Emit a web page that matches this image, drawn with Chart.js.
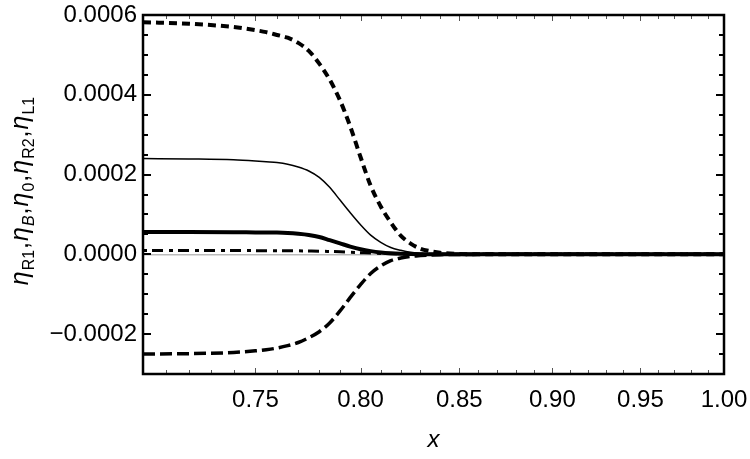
<!DOCTYPE html>
<html>
<head>
<meta charset="utf-8">
<script src="https://cdn.jsdelivr.net/npm/chart.js@4.4.1/dist/chart.umd.min.js"></script>
<style>
    html, body { margin: 0; padding: 0; background: #fff; }
    #wrap { width: 750px; height: 459px; position: relative; }
</style>
</head>
<body>
<div id="wrap"><canvas id="etaChart"></canvas></div>
<script>
// x positions (log axis) and the five eta curves
const X_VALUES = [0.70, 0.72, 0.74, 0.75, 0.755, 0.76, 0.765, 0.77, 0.775, 0.78, 0.785, 0.79, 0.795,
    0.80, 0.805, 0.81, 0.815, 0.82, 0.825, 0.83, 0.835, 0.84, 0.85, 0.87, 0.90, 0.95, 1.00];

// thick dotted
const ETA_DOTTED = [0.000582, 0.000578, 0.000570, 0.000562, 0.000557, 0.000550, 0.000543, 0.000530,
    0.000510, 0.000478, 0.000438, 0.000386, 0.000320, 0.000244, 0.000172, 0.000120, 0.000080,
    0.000047, 0.000027, 0.000014, 0.000008, 0.000004, 0.000001, 0, 0, 0, 0];
// thin solid
const ETA_THIN = [0.000240, 0.000239, 0.000237, 0.000234, 0.000232, 0.000230, 0.000226, 0.000219,
    0.000209, 0.000193, 0.000168, 0.000136, 0.000104, 0.000074, 0.000048, 0.000030, 0.000017,
    0.000010, 0.000005, 0.0000025, 0.000001, 0.0000005, 0, 0, 0, 0, 0];
// thick solid
const ETA_THICK = [0.000056, 0.000056, 0.0000555, 0.000055, 0.0000548, 0.0000545, 0.0000535,
    0.0000515, 0.0000485, 0.0000435, 0.0000355, 0.0000275, 0.0000195, 0.0000128, 0.000008,
    0.0000047, 0.0000027, 0.0000015, 0.0000007, 0.0000003, 0.0000001, 0, 0, 0, 0, 0, 0];
// dash-dot
const ETA_DASHDOT = [0.0000095, 0.0000095, 0.0000094, 0.0000093, 0.0000092, 0.0000090, 0.0000089,
    0.0000087, 0.0000084, 0.0000080, 0.0000072, 0.0000063, 0.0000052, 0.0000042, 0.0000032,
    0.0000023, 0.0000016, 0.0000010, 0.0000006, 0.0000003, 0.0000002, 0.0000001, 0, 0, 0, 0, 0];
// dashed (negative)
const ETA_DASHED = [-0.000250, -0.000249, -0.000246, -0.000242, -0.000239, -0.000235, -0.000229,
    -0.000221, -0.000209, -0.000194, -0.000172, -0.000142, -0.000108, -0.000076, -0.000048,
    -0.000029, -0.000016, -0.000009, -0.000005, -0.000003, -0.0000015, -0.0000008, -0.0000003,
    0, 0, 0, 0];

const X_MAJOR = [0.75, 0.80, 0.85, 0.90, 0.95, 1.00];
const X_MINOR = [0.71, 0.72, 0.73, 0.74, 0.76, 0.77, 0.78, 0.79, 0.81, 0.82, 0.83, 0.84,
    0.86, 0.87, 0.88, 0.89, 0.91, 0.92, 0.93, 0.94, 0.96, 0.97, 0.98, 0.99];
const Y_MAJOR = [-0.0002, 0, 0.0002, 0.0004, 0.0006];
const Y_MINOR = [-0.00025, -0.00015, -0.0001, -0.00005, 0.00005, 0.0001, 0.00015,
    0.00025, 0.0003, 0.00035, 0.00045, 0.0005, 0.00055];

const FONT_FAMILY = '"Liberation Sans", Arial, sans-serif';

function toPoints(values) {
    return X_VALUES.map((x, i) => ({ x: x, y: values[i] }));
}

function formatY(v) {
    const s = Math.abs(v) < 1e-12 ? '0.0000' : v.toFixed(4);
    return s.replace('-', '\u2212');
}

// frame, inward ticks on all four sides and the thin y = 0 line
const framePlugin = {
    id: 'frame',
    beforeDatasetsDraw(chart) {
        const { ctx, chartArea: a, scales } = chart;
        const y0 = scales.y.getPixelForValue(0);
        ctx.save();
        ctx.strokeStyle = '#9a9a9a';
        ctx.lineWidth = 1;
        ctx.beginPath();
        ctx.moveTo(a.left, y0 + 0.5);
        ctx.lineTo(a.right, y0 + 0.5);
        ctx.stroke();
        ctx.restore();
    },
    afterDraw(chart) {
        const { ctx, chartArea: a, scales } = chart;
        ctx.save();
        // x ticks
        ctx.strokeStyle = '#555';
        ctx.lineWidth = 1;
        const xTick = (v, len) => {
            const px = Math.round(scales.x.getPixelForValue(v)) + 0.5;
            ctx.beginPath();
            ctx.moveTo(px, a.bottom); ctx.lineTo(px, a.bottom - len);
            ctx.moveTo(px, a.top); ctx.lineTo(px, a.top + len);
            ctx.stroke();
        };
        X_MAJOR.forEach(v => xTick(v, 6));
        X_MINOR.forEach(v => xTick(v, 4));
        // y ticks
        ctx.strokeStyle = '#000';
        ctx.lineWidth = 2;
        const yTick = (v, len) => {
            const py = Math.round(scales.y.getPixelForValue(v));
            ctx.beginPath();
            ctx.moveTo(a.left, py); ctx.lineTo(a.left + len, py);
            ctx.moveTo(a.right, py); ctx.lineTo(a.right - len, py);
            ctx.stroke();
        };
        Y_MAJOR.forEach(v => yTick(v, 8));
        Y_MINOR.forEach(v => yTick(v, 5));
        // frame
        ctx.lineWidth = 2.5;
        ctx.strokeStyle = '#000';
        ctx.strokeRect(a.left, a.top, a.right - a.left, a.bottom - a.top);
        ctx.restore();
    }
};

// rotated y title with subscripts
const yTitlePlugin = {
    id: 'yTitle',
    afterDraw(chart) {
        const { ctx, chartArea: a } = chart;
        const main = 'italic 25px ' + FONT_FAMILY;
        const plain = '25px ' + FONT_FAMILY;
        const sub = '16px ' + FONT_FAMILY;
        const subIt = 'italic 16px ' + FONT_FAMILY;
        const parts = [
            ['\u03b7', main, 0], ['R1', sub, 6], [',', plain, 0],
            ['\u03b7', main, 0], ['B', subIt, 6], [',', plain, 0],
            ['\u03b7', main, 0], ['0', sub, 6], [',', plain, 0],
            ['\u03b7', main, 0], ['R2', sub, 6], [',', plain, 0],
            ['\u03b7', main, 0], ['L1', sub, 6],
        ];
        ctx.save();
        let total = 0;
        parts.forEach(p => { ctx.font = p[1]; total += ctx.measureText(p[0]).width + 1; });
        ctx.translate(28, (a.top + a.bottom) / 2 - 4);
        ctx.rotate(-Math.PI / 2);
        ctx.fillStyle = '#000';
        ctx.textBaseline = 'alphabetic';
        let x = -total / 2;
        parts.forEach(p => {
            ctx.font = p[1];
            ctx.fillText(p[0], x, p[2]);
            x += ctx.measureText(p[0]).width + 1;
        });
        ctx.restore();
    }
};

function lineSet(label, values, width, dash) {
    return {
        label: label,
        data: toPoints(values),
        borderColor: '#000',
        borderWidth: width,
        borderDash: dash,
        borderCapStyle: 'butt',
        pointRadius: 0,
        fill: false,
        cubicInterpolationMode: 'monotone',
    };
}

document.addEventListener('DOMContentLoaded', () => {
    const ctx = document.getElementById('etaChart');
    new Chart(ctx, {
        type: 'line',
        data: {
            datasets: [
                lineSet('dotted', ETA_DOTTED, 4, [8, 5]),
                lineSet('thin', ETA_THIN, 1.5, []),
                lineSet('thick', ETA_THICK, 4, []),
                lineSet('dashdot', ETA_DASHDOT, 3, [4, 5, 11, 6]),
                lineSet('dashed', ETA_DASHED, 3.5, [12, 5]),
            ]
        },
        options: {
            responsive: true, maintainAspectRatio: false, animation: false,
            layout: { padding: { left: 0, right: 26, top: 15, bottom: 0 } },
            plugins: { legend: { display: false }, tooltip: { enabled: false } },
            scales: {
                x: {
                    type: 'logarithmic', min: 0.7, max: 1.0,
                    afterBuildTicks: s => { s.ticks = X_MAJOR.map(v => ({ value: v })); },
                    afterFit: s => { s.height = 85; s.paddingLeft = 0; s.paddingRight = 0; },
                    grid: { display: false, drawTicks: false },
                    border: { display: false },
                    ticks: {
                        autoSkip: false, maxRotation: 0, padding: 12, color: '#000',
                        font: { family: FONT_FAMILY, size: 24 },
                        callback: v => Number(v).toFixed(2),
                    },
                    title: {
                        display: true, text: 'x', color: '#000',
                        font: { family: FONT_FAMILY, size: 24, style: 'italic' },
                        padding: { top: 0, bottom: 4 },
                    },
                },
                y: {
                    type: 'linear', min: -0.0003, max: 0.0006,
                    afterBuildTicks: s => { s.ticks = Y_MAJOR.map(v => ({ value: v })); },
                    afterFit: s => { s.width = 143; s.paddingTop = 0; s.paddingBottom = 0; },
                    grid: { display: false, drawTicks: false },
                    border: { display: false },
                    ticks: {
                        autoSkip: false, padding: 6, color: '#000',
                        font: { family: FONT_FAMILY, size: 24 },
                        callback: v => formatY(v),
                    },
                },
            },
        },
        plugins: [framePlugin, yTitlePlugin],
    });
});
</script>
</body>
</html>
